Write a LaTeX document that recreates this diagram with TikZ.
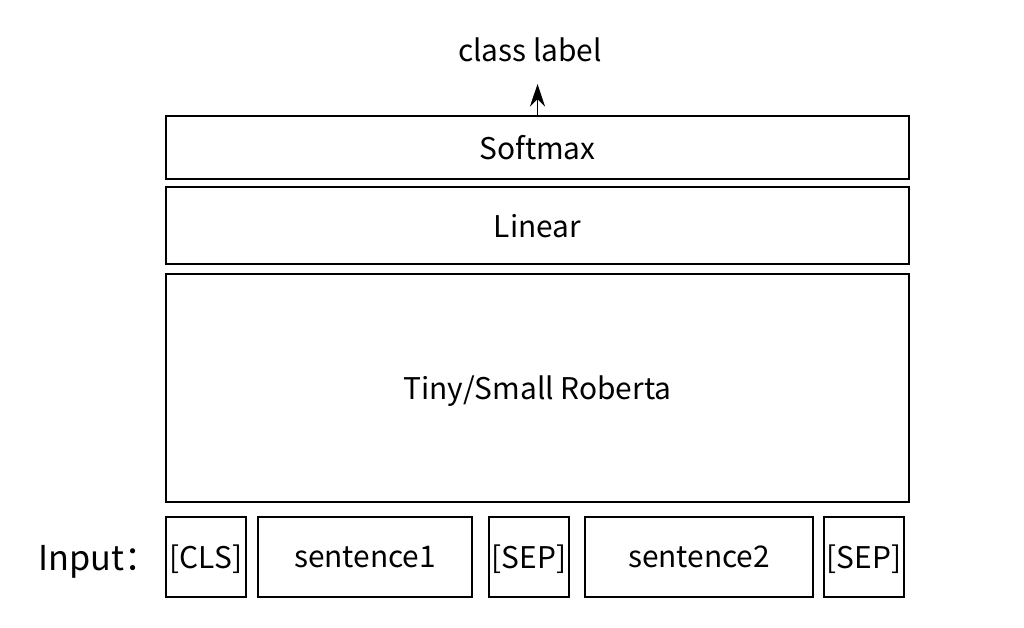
\documentclass[tikz,border=0pt]{standalone}
\usepackage{fontspec}
\setmainfont{Noto Sans CJK SC}
\usepackage{tikz}
\usetikzlibrary{positioning,arrows.meta}

\tikzset{
    layer/.style={draw, rectangle, line width=1.1pt, minimum width=14.86cm, inner sep=0pt, text depth=0pt},
    token/.style={draw, rectangle, line width=1.1pt, minimum height=1.6cm, inner sep=0pt, text depth=0pt}
}

\begin{document}
\begin{tikzpicture}[x=0.02cm, y=-0.02cm, font=\fontsize{17}{20}\selectfont]
    \useasboundingbox (0,0) rectangle (1024,627);
    \node[layer, minimum height=1.26cm] (softmax) at (537.5,147.5) {Softmax};
    \node[layer, minimum height=1.54cm] (linear) at (537.5,225.5) {Linear};
    \node[layer, minimum height=4.56cm] (roberta) at (537.5,388) {Tiny/Small Roberta};

    \node[token, minimum width=1.6cm] (cls) at (206,557) {[CLS]};
    \node[token, minimum width=4.28cm] (sent1) at (365,557) {sentence1};
    \node[token, minimum width=1.6cm] (sep1) at (529,557) {[SEP]};
    \node[token, minimum width=4.56cm] (sent2) at (699,557) {sentence2};
    \node[token, minimum width=1.6cm] (sep2) at (864,557) {[SEP]};
    \node[anchor=east, font=\fontsize{19.5}{24}\selectfont] (input) at (165,562) {Input：};

    \node (label) at (530,50) {class label};
    \coordinate (tip) at (537.5,84);
    \draw[-{Stealth[length=4.5mm,width=3mm]}, line width=1.1pt] (softmax.north) -- (tip);
\end{tikzpicture}
\end{document}
